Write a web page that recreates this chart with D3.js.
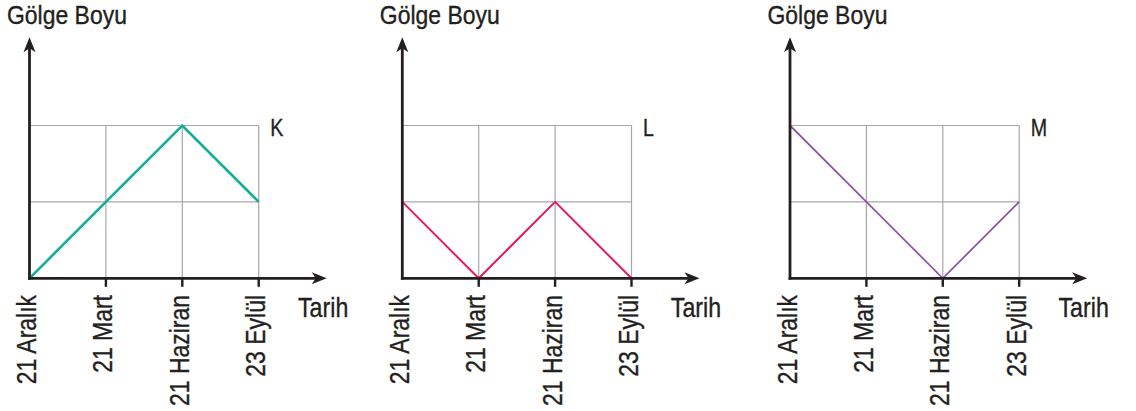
<!DOCTYPE html>
<html>
<head>
<meta charset="utf-8">
<script src="https://cdn.jsdelivr.net/npm/d3@7"></script>
<style>
  html, body { margin: 0; padding: 0; background: #fff; }
  svg { display: block; }
  text { font-family: "Liberation Sans", Arial, sans-serif; fill: #231f20; stroke: #231f20; stroke-width: 0.35; }
</style>
</head>
<body>
<svg id="chart" width="1136" height="411"></svg>
<script>
// ---- data ----
const categories = ["21 Aralık", "21 Mart", "21 Haziran", "23 Eylül"];
const panelNames = ["K", "L", "M"];
const seriesK = [0, 1, 2, 1];
const seriesL = [1, 0, 1, 0];
const seriesM = [2, 1, 0, 1];
const yLevels = [1, 2];
const yTitle = "Gölge Boyu";
const xTitle = "Tarih";

// ---- layout / style ----
const panelX = [29.5, 402.3, 790];
const colors = ["#13ad9b", "#e6196a", "#9057a6"];
const widths = [2.6, 2.0, 1.8];
const series = [seriesK, seriesL, seriesM];
const axisY = 278.3, step = 76.4;
const ink = "#231f20";

const svg = d3.select("#chart");

function label(g, tx, ty, rot, size, str, anchor, sq) {
  g.append("text")
    .attr("transform", `translate(${tx},${ty}) rotate(${rot}) scale(${sq || 0.82},1)`)
    .attr("text-anchor", anchor || "start")
    .attr("font-size", size)
    .text(str);
}

panelNames.forEach((name, p) => {
  const x0 = panelX[p];
  const x = d3.scaleLinear().domain([0, 3]).range([x0, x0 + 3 * step]);
  const y = d3.scaleLinear().domain([0, 2]).range([axisY, axisY - 2 * step]);
  const g = svg.append("g");

  // grid
  yLevels.forEach(v => {
    g.append("line")
      .attr("x1", x(0)).attr("x2", x(3))
      .attr("y1", y(v)).attr("y2", y(v))
      .attr("stroke", "#a7a7a7").attr("stroke-width", 1.2);
  });
  [1, 2, 3].forEach(i => {
    g.append("line")
      .attr("x1", x(i)).attr("x2", x(i))
      .attr("y1", y(0)).attr("y2", y(2))
      .attr("stroke", "#a7a7a7").attr("stroke-width", 1.2);
  });

  // series line
  const line = d3.line().x((d, i) => x(i)).y(d => y(d));
  g.append("path")
    .datum(series[p])
    .attr("d", line)
    .attr("fill", "none")
    .attr("stroke", colors[p])
    .attr("stroke-width", widths[p])
    .attr("stroke-linejoin", "miter");

  // axes
  const xEnd = x0 + 297.2;
  const yTop = 37.3;
  g.append("line")
    .attr("x1", x0 - 1.4).attr("x2", xEnd - 8)
    .attr("y1", axisY).attr("y2", axisY)
    .attr("stroke", ink).attr("stroke-width", 2.8);
  g.append("line")
    .attr("x1", x0).attr("x2", x0)
    .attr("y1", axisY + 1.4).attr("y2", yTop + 8)
    .attr("stroke", ink).attr("stroke-width", 2.8);
  // arrow heads
  g.append("path")
    .attr("d", `M${xEnd},${axisY} L${xEnd - 15},${axisY - 6} L${xEnd - 11},${axisY} L${xEnd - 15},${axisY + 6} Z`)
    .attr("fill", ink);
  g.append("path")
    .attr("d", `M${x0},${yTop} L${x0 - 6},${yTop + 15} L${x0},${yTop + 11} L${x0 + 6},${yTop + 15} Z`)
    .attr("fill", ink);

  // ticks and labels
  categories.forEach((c, i) => {
    if (i > 0) {
      g.append("line")
        .attr("x1", x(i)).attr("x2", x(i))
        .attr("y1", axisY).attr("y2", axisY + 8.5)
        .attr("stroke", ink).attr("stroke-width", 2.4);
    }
    label(g, x(i) + 6.5, 295, -90, 28, c, "end");
  });

  // titles
  label(g, x0 - 22.5, 24, 0, 25.5, yTitle, "start", 0.9);
  label(g, x0 + 268.5, 317, 0, 27, xTitle, "start", 0.86);
  label(g, x(3) + 11.5, 136, 0, 24, name);
});
</script>
</body>
</html>
